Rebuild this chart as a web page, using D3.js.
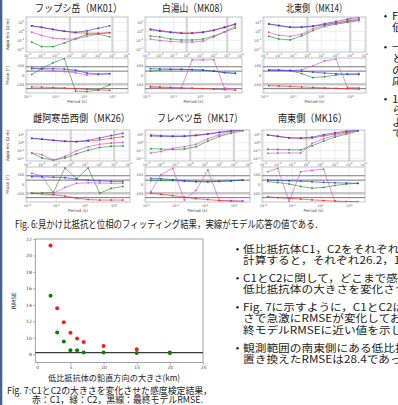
<!DOCTYPE html>
<html>
<head>
<meta charset="utf-8">
<script src="https://cdn.jsdelivr.net/npm/d3@7"></script>
<style>
html, body { margin: 0; padding: 0; background: #fff; overflow: hidden; }
svg { display: block; }
</style>
</head>
<body>
<script>
// ---- data ----
const stationNames = ["フップシ岳（MK01）", "白湯山（MK08）", "北東側（MK14）",
                      "雌阿寒岳西側（MK26）", "フレベツ岳（MK17）", "南東側（MK16）"];
// periods (s) shared by all stations
const periods = [0.002, 0.01, 0.063, 0.4, 2.5, 16, 100, 630, 4000];
// log10 apparent resistivity, rows: red, blue, green, magenta
const rhoMK01 = [
  [0.62, 0.45, 0.22, 0.0, -0.15, -0.2, -0.2, -0.15, null],
  [0.62, 0.45, 0.22, 0.02, -0.1, 0.05, 0.35, 0.62, null],
  [-1.2, -1.7, -1.7, -1.3, -0.8, -0.35, -0.3, -0.6, null],
  [-0.1, -0.45, -0.75, -0.85, -0.85, -0.55, -0.3, -0.15, null]];
const rhoMK08 = [
  [0.26, 0.1, -0.07, -0.18, -0.18, -0.07, 0.15, 0.49, 0.82],
  [0.18, 0.02, -0.12, -0.22, -0.22, -0.12, 0.1, 0.42, 0.8],
  [-0.52, -0.63, -0.85, -0.96, -0.96, -0.85, -0.52, -0.07, 0.37],
  [-0.85, -1.02, -1.13, -1.19, -1.19, -1.08, -0.63, -0.07, 0.6]];
const rhoMK14 = [
  [0.82, 0.65, 0.45, 0.45, 0.55, 0.75, 0.95, 1.15, 1.38],
  [0.82, 0.65, 0.47, 0.48, 0.6, 0.85, 1.1, 1.35, 1.57],
  [-0.55, -0.85, -0.95, -0.5, 0.1, 0.55, 0.8, 1.0, 1.2],
  [-0.1, -0.45, -0.55, -0.3, 0.3, 0.7, 0.9, 1.1, 1.3]];
const rhoMK26 = [
  [0.55, 0.45, 0.3, 0.18, 0.13, 0.2, 0.35, 0.55, 0.76],
  [0.55, 0.45, 0.3, 0.18, 0.15, 0.3, 0.6, 0.9, 1.18],
  [-1.3, -1.9, -2.2, -1.9, -1.4, -0.95, -0.6, -0.45, -0.4],
  [-1.3, -1.5, -2.2, -1.7, -1.0, -0.5, -0.2, -0.05, 0.05]];
const rhoMK17 = [
  [0.97, 0.9, 0.85, 0.85, 0.95, 1.1, 1.3, 1.5, 1.6],
  [0.85, 0.8, 0.78, 0.8, 0.9, 1.1, 1.3, 1.5, 1.62],
  [-0.75, -0.8, -0.85, -0.8, -0.5, 0.2, 0.8, 1.2, 1.5],
  [-1.3, -1.1, -0.7, -0.5, -0.2, 0.5, 1.0, 1.4, 1.6]];
const rhoMK16 = [
  [0.97, 0.8, 0.6, 0.55, 0.6, 0.85, 1.1, 1.35, 1.55],
  [0.97, 0.8, 0.62, 0.58, 0.7, 1.0, 1.25, 1.45, 1.6],
  [-0.83, -0.85, -0.88, -0.9, -0.4, 0.2, 0.7, 1.1, 1.45],
  [-1.33, -1.3, -1.28, -1.3, -0.1, 0.5, 0.9, 1.25, 1.5]];
// phase (deg), rows: red, blue, green, magenta
const phMK01 = [
  [-118, -120, -124, -128, -135, -142, -148, -152, null],
  [70, 72, 70, 66, 55, 25, 15, 18, null],
  [10, 70, 130, 175, -160, -165, -150, -95, null],
  [85, 62, 50, 40, 28, 5, 10, 18, null]];
const phMK08 = [
  [-113, -118, -122, -126, -130, -135, -140, -145, -150],
  [70, 68, 66, 64, 60, 55, 45, 30, 22],
  [45, 55, 60, 62, 60, 55, 45, 30, 22],
  [-125, -125, -128, -130, 160, 160, 162, -130, -135]];
const phMK14 = [
  [-105, -108, -112, -118, -122, -128, -132, -136, -140],
  [56, 55, 52, 45, 35, 25, 18, 12, 10],
  [55, 54, 50, 20, -22, -12, 5, 15, 20],
  [56, 55, 50, 60, 100, 150, 170, -122, -125]];
const phMK26 = [
  [-90, -95, -105, -120, -140, -155, -160, -160, -160],
  [80, 78, 75, 70, 55, 45, 38, 32, 29],
  [-90, -88, -80, 170, 60, 170, -90, -40, -20],
  [115, 90, -90, -30, 12, 18, 15, 12, 12]];
const phMK17 = [
  [-88, -100, -115, -130, -145, -155, -165, -172, -177],
  [63, 58, 50, 40, 32, 29, 32, 38, 46],
  [40, 42, 40, 33, 28, 28, 32, 38, 44],
  [-74, 100, 166, -160, -60, 150, -165, -165, -167]];
const phMK16 = [
  [-126, -135, -142, -150, -158, -165, -170, -175, -177],
  [46, 42, 38, 34, 28, 22, 18, 15, 12],
  [30, 20, 5, -20, -38, -30, -10, 5, 12],
  [132, 166, -177, 132, 145, 158, -177, -177, -178]];
const rhoTickExps = [1, 0, -1, -2];
const rhoPeriodTicks = [1e-3, 1e-2, 1e-1, 1, 10, 100, 1e3, 1e4];
const phasePeriodTicks = [1e-3, 1e-1, 10, 1e3];
const phaseTicks = [100, 0, -100];
const phaseRefs = [90, 45, -135];

// Fig. 7 sensitivity test
const sizesKm = [2, 3, 4, 5, 6, 7, 10, 15, 20];
const rmseC1 = [21.2, 13.6, 11.9, 10.6, 9.9, 9.5, 9.0, 8.6, 8.2];
const rmseC2 = [15.1, 10.65, 9.55, 8.5, 8.5, 8.2, 8.2, 8.15, 8.15];
const rmseFinal = 8.2;
const rmseXTicks = [0, 5, 10, 15, 20, 25];
const rmseYTicks = [8, 10, 12, 14, 16, 18, 20, 22];

// slide text
const bulletsTop = [
  ["Fig. 6に各観測点の見かけ比抵抗と位相の", "値を示す。"],
  ["一部の観測点を除き，観測値", "とモデル応答値はよく一致し", "の，全体として良好なモデル", "応答が得られた。"],
  ["1次元構造を示す観測点か", "ら3次元構造を示す観測点", "よく再現されている", "である。"]];
const bulletsBottom = [
  ["低比抵抗体C1，C2をそれぞれ周囲の比抵抗に置き換えて", "計算すると，それぞれ26.2，18.5であった。"],
  ["C1とC2に関して，どこまで感度があるか調べるため，", "低比抵抗体の大きさを変化させてRMSEを計算した。"],
  ["Fig. 7に示すように，C1とC2は2〜5 kmの大き", "さで急激にRMSEが変化しており，7 km以上では最", "終モデルRMSEに近い値を示した。"],
  ["観測範囲の南東側にある低比抵抗体を周囲の比抵抗に", "置き換えたRMSEは28.4であった。"]];

// ---- drawing ----
const W = 398, H = 405;
const jp = "'Noto Sans CJK JP', 'Noto Sans', sans-serif";
const sans = "'DejaVu Sans', sans-serif";
const compColors = ["#f02a2a", "#2f3cf0", "#23962a", "#d64fd6"];

const svg = d3.select("body").append("svg")
  .attr("width", W).attr("height", H)
  .style("font-family", jp);
svg.append("rect").attr("width", W).attr("height", H).attr("fill", "#fff");
svg.append("rect").attr("x", 0).attr("y", 0).attr("width", 2.3).attr("height", H).attr("fill", "#41648f");

const rows = [
  { title: 12, ry: [17, 52], py: [58, 93] },
  { title: 122, ry: [130, 161], py: [167, 202] }
];
const cols = [
  [[26, 128], [145, 242], [263, 366]],
  [[26, 130], [145, 250], [262, 365]]
];
const titleSpans = [[35, 87], [162, 66], [286, 61], [33, 97], [157, 86], [278, 69]];
const rhoSets = [rhoMK01, rhoMK08, rhoMK14, rhoMK26, rhoMK17, rhoMK16];
const phSets = [phMK01, phMK08, phMK14, phMK26, phMK17, phMK16];

function powText(sel, e) {
  sel.append("tspan").text("10");
  sel.append("tspan").attr("dy", -1.3).attr("font-size", 2.7).text(e);
}

function drawStation(i) {
  const r = rows[Math.floor(i / 3)];
  const c = cols[Math.floor(i / 3)][i % 3];
  const g = svg.append("g");

  g.append("text")
    .attr("x", titleSpans[i][0]).attr("y", r.title)
    .attr("textLength", titleSpans[i][1]).attr("lengthAdjust", "spacingAndGlyphs")
    .attr("font-size", 10.5).attr("fill", "#222")
    .text(stationNames[i]);

  const x = d3.scaleLog().domain([Math.pow(10, -3.1), Math.pow(10, 4.1)]).range(c);
  const yR = d3.scaleLinear().domain([-2.3, 1.6]).range([r.ry[1], r.ry[0]]);
  const yP = d3.scaleLinear().domain([-180, 180]).range([r.py[1], r.py[0]]);

  // resistivity panel grid and ticks
  rhoPeriodTicks.forEach(t => {
    const wide = t === 1 || t === 1000;
    g.append("line").attr("x1", x(t)).attr("x2", x(t)).attr("y1", r.ry[0]).attr("y2", r.ry[1])
      .attr("stroke", wide ? "#d4d4d4" : "#e2e2e2").attr("stroke-width", wide ? 2.2 : 0.6);
    g.append("text").attr("x", x(t)).attr("y", r.ry[1] + 4.6)
      .attr("text-anchor", "middle").attr("font-size", 3.6).attr("font-family", sans).attr("fill", "#555")
      .call(powText, Math.round(Math.log10(t)));
  });
  rhoTickExps.forEach(e => {
    g.append("line").attr("x1", c[0]).attr("x2", c[1]).attr("y1", yR(e)).attr("y2", yR(e))
      .attr("stroke", "#e2e2e2").attr("stroke-width", 0.6);
    g.append("text").attr("x", c[0] - 1.8).attr("y", yR(e) + 1.2)
      .attr("text-anchor", "end").attr("font-size", 3.6).attr("font-family", sans).attr("fill", "#555")
      .call(powText, e);
  });

  // phase panel grid and ticks
  phasePeriodTicks.forEach(t => {
    g.append("line").attr("x1", x(t)).attr("x2", x(t)).attr("y1", r.py[0]).attr("y2", r.py[1])
      .attr("stroke", "#e2e2e2").attr("stroke-width", 0.6);
    g.append("text").attr("x", x(t)).attr("y", r.py[1] + 4.8)
      .attr("text-anchor", "middle").attr("font-size", 3.6).attr("font-family", sans).attr("fill", "#555")
      .call(powText, Math.round(Math.log10(t)));
  });
  phaseTicks.forEach(p => {
    g.append("text").attr("x", c[0] - 1.8).attr("y", yP(p) + 1.2)
      .attr("text-anchor", "end").attr("font-size", 3.6).attr("font-family", sans).attr("fill", "#555")
      .text(p);
  });
  g.append("line").attr("x1", c[0]).attr("x2", c[1]).attr("y1", yP(-90)).attr("y2", yP(-90))
    .attr("stroke", "#c8c8c8").attr("stroke-width", 2.4);
  phaseRefs.forEach(p => {
    g.append("line").attr("x1", c[0]).attr("x2", c[1]).attr("y1", yP(p)).attr("y2", yP(p))
      .attr("stroke", "#555").attr("stroke-width", 0.8);
  });
  g.append("text").attr("x", (c[0] + c[1]) / 2).attr("y", r.py[1] + 10)
    .attr("text-anchor", "middle").attr("font-size", 4.2).attr("font-family", sans).attr("fill", "#444")
    .text("Period (s)");

  if (i % 3 === 0) {
    g.append("text")
      .attr("transform", `translate(9,${(r.ry[0] + r.ry[1]) / 2}) rotate(-90)`)
      .attr("text-anchor", "middle").attr("font-size", 4.2).attr("font-family", sans).attr("fill", "#444")
      .text("Appa res (Ω m)");
    g.append("text")
      .attr("transform", `translate(9,${(r.py[0] + r.py[1]) / 2}) rotate(-90)`)
      .attr("text-anchor", "middle").attr("font-size", 4.2).attr("font-family", sans).attr("fill", "#444")
      .text("Phase (°)");
  }

  // series, clipped to each panel
  [[r.ry, rhoSets[i], yR], [r.py, phSets[i], yP]].forEach(([ys, set, y], k) => {
    const id = `clip${i}_${k}`;
    svg.append("clipPath").attr("id", id).append("rect")
      .attr("x", c[0]).attr("y", ys[0]).attr("width", c[1] - c[0]).attr("height", ys[1] - ys[0]);
    const s = g.append("g").attr("clip-path", `url(#${id})`);
    const line = d3.line()
      .defined(d => d != null)
      .x((d, j) => x(periods[j]))
      .y(d => y(d));
    [2, 3, 0, 1].forEach(ci => {
      s.append("path").datum(set[ci]).attr("d", line)
        .attr("fill", "none").attr("stroke", compColors[ci]).attr("stroke-width", 0.75).attr("opacity", 0.85);
      set[ci].forEach((d, j) => {
        if (d == null) return;
        s.append("rect").attr("x", x(periods[j]) - 0.8).attr("y", y(d) - 0.8)
          .attr("width", 1.6).attr("height", 1.6).attr("fill", compColors[ci]);
      });
    });
    g.append("rect").attr("x", c[0]).attr("y", ys[0]).attr("width", c[1] - c[0]).attr("height", ys[1] - ys[0])
      .attr("fill", "none").attr("stroke", "#9a9a9a").attr("stroke-width", 0.6);
  });
}
stationNames.forEach((d, i) => drawStation(i));

svg.append("text").attr("x", 15).attr("y", 228)
  .attr("textLength", 308).attr("lengthAdjust", "spacingAndGlyphs")
  .attr("font-size", 10).attr("fill", "#222")
  .text("Fig. 6:見かけ比抵抗と位相のフィッティング結果，実線がモデル応答の値である．");

// ---- Fig. 7 RMSE chart ----
const px = d3.scaleLinear().domain([-0.3, 25]).range([35.3, 203]);
const py = d3.scaleLinear().domain([7, 22]).range([362.5, 239]);
const chart = svg.append("g");

chart.append("g").attr("transform", `translate(0,${py(7)})`)
  .call(d3.axisBottom(px).tickValues(rmseXTicks).tickSize(2).tickPadding(1.5))
  .call(a => a.select(".domain").remove())
  .call(a => a.selectAll("line").attr("stroke", "#555").attr("stroke-width", 0.5))
  .call(a => a.selectAll("text").attr("font-size", 4.5).attr("font-family", sans).attr("fill", "#444"));
chart.append("g").attr("transform", `translate(${px(-0.3)},0)`)
  .call(d3.axisLeft(py).tickValues(rmseYTicks).tickSize(2).tickPadding(1.5))
  .call(a => a.select(".domain").remove())
  .call(a => a.selectAll("line").attr("stroke", "#555").attr("stroke-width", 0.5))
  .call(a => a.selectAll("text").attr("font-size", 4.5).attr("font-family", sans).attr("fill", "#444"));

chart.append("rect").attr("x", px(-0.3)).attr("y", py(22)).attr("width", px(25) - px(-0.3)).attr("height", py(7) - py(22))
  .attr("fill", "none").attr("stroke", "#8a8a8a").attr("stroke-width", 0.8);

chart.append("line").attr("x1", px(-0.3)).attr("x2", px(25)).attr("y1", py(rmseFinal)).attr("y2", py(rmseFinal))
  .attr("stroke", "#3a3a3a").attr("stroke-width", 1.2);

chart.selectAll(".c1").data(rmseC1).enter().append("circle")
  .attr("cx", (d, i) => px(sizesKm[i])).attr("cy", d => py(d)).attr("r", 2)
  .attr("fill", "#ff1a1a");
chart.selectAll(".c2").data(rmseC2).enter().append("circle")
  .attr("cx", (d, i) => px(sizesKm[i])).attr("cy", d => py(d)).attr("r", 2)
  .attr("fill", "#0a7d0a");

chart.append("text").attr("transform", `translate(16,${(py(7) + py(22)) / 2}) rotate(-90)`)
  .attr("text-anchor", "middle").attr("font-size", 6).attr("font-family", sans).attr("fill", "#333")
  .text("RMSE");
chart.append("text").attr("x", 48).attr("y", 381)
  .attr("textLength", 132).attr("lengthAdjust", "spacingAndGlyphs")
  .attr("font-size", 8.5).attr("fill", "#222")
  .text("低比抵抗体の鉛直方向の大きさ(km)");
chart.append("text").attr("x", 7).attr("y", 393.5)
  .attr("textLength", 205).attr("lengthAdjust", "spacingAndGlyphs")
  .attr("font-size", 9.5).attr("fill", "#222")
  .text("Fig. 7:C1とC2の大きさを変化させた感度検定結果，");
chart.append("text").attr("x", 32).attr("y", 403)
  .attr("textLength", 171).attr("lengthAdjust", "spacingAndGlyphs")
  .attr("font-size", 9.5).attr("fill", "#222")
  .text("赤：C1，緑：C2，黒線：最終モデルRMSE.");

// ---- slide bullet text ----
function drawBullets(items, bx, tx, starts, gap) {
  items.forEach((lines, bi) => {
    svg.append("circle").attr("cx", bx).attr("cy", starts[bi] - 3.3).attr("r", 1.2).attr("fill", "#222");
    lines.forEach((ln, li) => {
      svg.append("text")
        .attr("transform", `translate(${tx},${starts[bi] + li * gap}) scale(1.17,1)`)
        .attr("font-size", 10).attr("fill", "#222")
        .text(ln);
    });
  });
}
drawBullets(bulletsTop, 385.5, 392, [19.5, 50.5, 102.5], 11.5);
drawBullets(bulletsBottom, 237.5, 243, [252.5, 281.5, 310.5, 351.5], 11.5);
</script>
</body>
</html>
